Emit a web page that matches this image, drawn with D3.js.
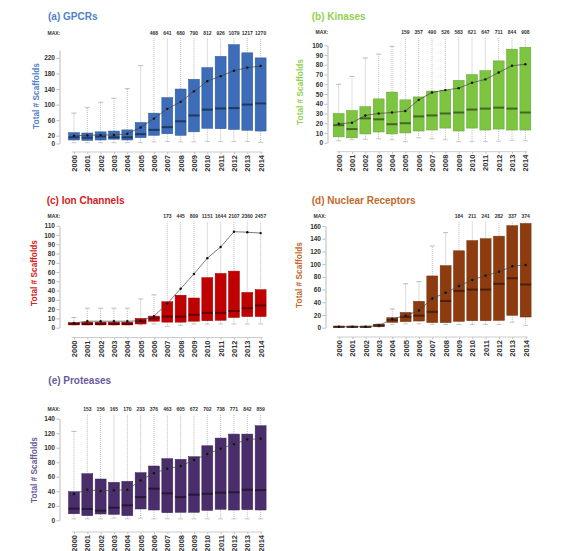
<!DOCTYPE html>
<html>
<head>
<meta charset="utf-8">
<script src="https://cdn.jsdelivr.net/npm/d3@7"></script>
<style>
  body { margin: 0; background: #fff; }
  text { font-family: "Liberation Sans", Arial, sans-serif; font-weight: bold; }
</style>
</head>
<body>
<div id="chart"></div>
<script>
const years = ["2000","2001","2002","2003","2004","2005","2006","2007","2008","2009","2010","2011","2012","2013","2014"];

// (a) GPCRs
const gpcrQ1     = [9, 8, 9, 11, 9, 15, 21, 25, 21, 30, 39, 38, 36, 34, 32];
const gpcrMedian = [16, 15, 18, 16, 16, 24, 35, 42, 57, 72, 87, 90, 91, 100, 103];
const gpcrQ3     = [28, 27, 30, 32, 35, 54, 78, 118, 140, 165, 195, 224, 254, 233, 220];
const gpcrMean   = [20, 21, 22, 22, 25, 41, 64, 89, 107, 134, 160, 173, 187, 195, 199];
const gpcrMin    = [2, 2, 2, 2, 2, 2, 4, 5, 4, 4, 5, 5, 5, 5, 3];
const gpcrMax    = [78, 92, 106, 116, 141, 200, 468, 641, 680, 790, 812, 926, 1079, 1217, 1270];

// (b) Kinases
const kinQ1     = [6, 5, 9, 11, 9, 10, 12, 13, 15, 12, 15, 13, 14, 13, 13];
const kinMedian = [18, 14, 25, 24, 19, 20, 27, 28, 30, 31, 34, 35, 36, 35, 31];
const kinQ3     = [30, 33, 37, 45, 52, 44, 47, 53, 54, 64, 70, 74, 84, 96, 98];
const kinMean   = [19.5, 20.5, 28, 30, 31, 32.5, 44, 51.5, 54, 56, 61.5, 65, 72, 79, 80.5];
const kinMin    = [2, 3, 3.5, 4, 3, 1, 5, 4, 3, 1, 1, 1, 1.5, 2.5, 2];
const kinMax    = [60, 68, 87, 91, 99, 159, 357, 490, 526, 583, 621, 647, 711, 844, 908];

// (c) Ion Channels
const ionQ1     = [3, 3, 3, 3, 3, 4, 7, 6, 6, 7, 7.5, 8, 11, 12, 12];
const ionMedian = [4, 4, 4, 4, 4, 7, 10, 12, 12, 14, 16, 16, 18, 21, 24];
const ionQ3     = [5.5, 6, 6, 6, 6, 10, 12.5, 28, 35, 32, 54, 58.5, 61, 38, 41];
const ionMean   = [5, 7, 7, 7, 7, 7.5, 12.5, 26, 42, 58, 75, 87, 103.5, 103, 102];
const ionMin    = [3, 3, 3, 3, 3, 3, 4, 1.5, 2.5, 4, 4, 4, 4, 4, 4];
const ionMax    = [11, 21, 21, 21, 21, 31, 35.5, 173, 445, 809, 1151, 1644, 2107, 2360, 2457];

// (d) Nuclear Receptors
const nrQ1     = [1, 1, 1, 1.5, 8.4, 9.5, 10.5, 8, 8, 10, 11, 11, 11.5, 19.5, 16.8];
const nrMedian = [1.5, 1.5, 1.5, 3.5, 12, 17, 19, 25, 42, 58, 60, 60, 69, 77.7, 68];
const nrQ3     = [2, 2, 2, 5.5, 15.7, 24, 41.5, 81.4, 97.6, 121, 137, 140, 144, 160.5, 164];
const nrMean   = [1.5, 1.5, 1.5, 3.5, 13.7, 19, 27, 46, 55, 65.6, 75, 82, 88, 96.6, 98.7];
const nrMin    = [1, 1, 1, 1, 5, 6, 6, 5, 5, 5, 5, 5, 5, 8.5, 3.7];
const nrMax    = [2, 2, 2, 6, 29.5, 69, 72.5, 128.6, 149.5, 184, 211, 241, 282, 337, 374];

// (e) Proteases
const prQ1     = [9, 6.4, 8.7, 8.2, 6.4, 15.6, 14.2, 10.5, 11, 11, 13.7, 15.1, 14.2, 14.6, 14.2];
const prMedian = [16, 15.6, 13.3, 17.4, 20.6, 32, 43.6, 37.2, 32, 35.3, 36.6, 38, 38.6, 42.2, 41.7];
const prQ3     = [39.4, 64.2, 56.9, 52.3, 53.7, 65.6, 74.8, 84.9, 84, 87.6, 102.7, 113.3, 118.8, 118.8, 130.3];
const prMean   = [36.2, 42.2, 40.4, 41.3, 42, 55, 65, 71, 74.8, 83, 91.3, 98.6, 105, 111.5, 112.4];
const prMin    = [2, 2, 2, 3, 2, 3, 2, 2, 2, 2, 2, 2, 2, 2, 2];
const prMax    = [122.5, 153, 156, 165, 170, 233, 376, 463, 605, 672, 702, 738, 771, 842, 859];

// y tick labels
const gpcrTicks = [0, 20, 60, 100, 140, 180, 220];
const kinTicks  = [0, 10, 20, 30, 40, 50, 60, 70, 80, 90, 100];
const ionTicks  = [0, 10, 20, 30, 40, 50, 60, 70, 80, 90, 100, 110];
const nrTicks   = [0, 20, 40, 60, 80, 100, 120, 140, 160];
const prTicks   = [0, 20, 40, 60, 80, 100, 120, 140];

const width = 569, height = 551;

const svg = d3.select("#chart")
  .append("svg")
  .attr("width", width)
  .attr("height", height);

const panels = [
  { title: "(a) GPCRs", fill: "#3D6CB9", titleColor: "#4F81C9",
    q1: gpcrQ1, med: gpcrMedian, q3: gpcrQ3, mean: gpcrMean, min: gpcrMin, max: gpcrMax, ticks: gpcrTicks,
    yMax: 240, y0: 143.5, yTop: 50.1, xRange: [67.3, 267.3], axisX: 59.5,
    maxY: 33.5, xAxisY: 152, titleX: 48, titleY: 20, labelX: 37, labelY: 96 },
  { title: "(b) Kinases", fill: "#7DC540", titleColor: "#92D050",
    q1: kinQ1, med: kinMedian, q3: kinQ3, mean: kinMean, min: kinMin, max: kinMax, ticks: kinTicks,
    yMax: 100, y0: 142.7, yTop: 45.3, xRange: [332, 532], axisX: 327.5,
    maxY: 33, xAxisY: 151.7, titleX: 311.7, titleY: 20, labelX: 301, labelY: 92 },
  { title: "(c) Ion Channels", fill: "#C00000", titleColor: "#D42020",
    q1: ionQ1, med: ionMedian, q3: ionQ3, mean: ionMean, min: ionMin, max: ionMax, ticks: ionTicks,
    yMax: 110, y0: 327.7, yTop: 225.7, xRange: [67.3, 267.3], axisX: 59.5,
    maxY: 217, xAxisY: 337.5, titleX: 46.7, titleY: 204, labelX: 35, labelY: 273 },
  { title: "(d) Nuclear Receptors", fill: "#8E3B0F", titleColor: "#C2692A",
    q1: nrQ1, med: nrMedian, q3: nrQ3, mean: nrMean, min: nrMin, max: nrMax, ticks: nrTicks,
    yMax: 160, y0: 327.7, yTop: 226, xRange: [332.3, 532.3], axisX: 325.5,
    maxY: 217, xAxisY: 337, titleX: 311.7, titleY: 204, labelX: 300, labelY: 275 },
  { title: "(e) Proteases", fill: "#4A2D6B", titleColor: "#6A5A9C",
    q1: prQ1, med: prMedian, q3: prQ3, mean: prMean, min: prMin, max: prMax, ticks: prTicks,
    yMax: 140, y0: 520.3, yTop: 418.7, xRange: [67.3, 267.3], axisX: 59.5,
    maxY: 410, xAxisY: 532, titleX: 48.3, titleY: 384, labelX: 35, labelY: 470 }
];

function drawPanel(p) {
  let x = d3.scalePoint().domain(years).range(p.xRange).padding(0.5);
  let bw = x.step() * 0.82;
  let y = d3.scaleLinear().domain([0, p.yMax]).range([p.y0, p.yTop]);
  let g = svg.append("g");

  // title
  g.append("text")
    .attr("x", p.titleX).attr("y", p.titleY)
    .attr("font-size", 10).attr("fill", p.titleColor)
    .text(p.title);

  // y label
  g.append("text")
    .attr("transform", `translate(${p.labelX},${p.labelY}) rotate(-90)`)
    .attr("text-anchor", "middle").attr("dominant-baseline", "middle")
    .attr("font-size", 8.3).attr("fill", p.titleColor)
    .text("Total # Scaffolds");

  // y axis
  let ya = g.append("g")
    .attr("transform", `translate(${p.axisX},0)`)
    .call(d3.axisLeft(y).tickValues(p.ticks).tickSize(3).tickSizeOuter(0).tickPadding(1.5));
  ya.select(".domain").attr("stroke", "#bbb");
  ya.selectAll(".tick line").attr("stroke", "#bbb");
  ya.selectAll(".tick text").attr("font-size", 6.5).attr("fill", "#333")
    .attr("font-family", null);

  // x axis
  let xa = g.append("g")
    .attr("transform", `translate(0,${p.xAxisY})`)
    .call(d3.axisBottom(x).tickSize(2).tickSizeOuter(0));
  xa.select(".domain").remove();
  xa.append("line")
    .attr("x1", x(years[0]) - 2).attr("x2", x(years[years.length - 1]) + 2)
    .attr("stroke", "#ccc");
  xa.selectAll(".tick line").attr("stroke", "#bbb");
  xa.selectAll(".tick text")
    .attr("transform", "rotate(-90)")
    .attr("text-anchor", "end")
    .attr("x", -3).attr("y", 0).attr("dy", "0.35em")
    .attr("font-size", 7.5).attr("fill", "#333")
    .attr("font-family", null);

  // MAX label row
  g.append("text")
    .attr("x", p.axisX - 12).attr("y", p.maxY)
    .attr("dominant-baseline", "middle")
    .attr("font-size", 5).attr("fill", "#333")
    .text("MAX:");

  let rows = years.map((yr, i) => ({
    yr: yr, q1: p.q1[i], med: p.med[i], q3: p.q3[i], mean: p.mean[i], min: p.min[i], max: p.max[i]
  }));

  // whiskers
  for (let d of rows) {
    let cx = x(d.yr);
    let over = d.max > p.yMax;
    let topY = over ? p.maxY + 4.5 : y(d.max);
    g.append("line")
      .attr("x1", cx).attr("x2", cx)
      .attr("y1", y(d.q3)).attr("y2", topY)
      .attr("stroke", "#aaa").attr("stroke-width", 0.8)
      .attr("stroke-dasharray", "1,1");
    if (!over) {
      g.append("line")
        .attr("x1", cx - 2.5).attr("x2", cx + 2.5)
        .attr("y1", topY).attr("y2", topY)
        .attr("stroke", "#aaa").attr("stroke-width", 0.8);
    } else {
      g.append("text")
        .attr("x", cx).attr("y", p.maxY)
        .attr("text-anchor", "middle").attr("dominant-baseline", "middle")
        .attr("font-size", 5).attr("fill", "#333")
        .text(d.max);
    }
    g.append("line")
      .attr("x1", cx).attr("x2", cx)
      .attr("y1", y(d.q1)).attr("y2", y(d.min))
      .attr("stroke", "#aaa").attr("stroke-width", 0.8)
      .attr("stroke-dasharray", "1,1");
    g.append("line")
      .attr("x1", cx - 2.5).attr("x2", cx + 2.5)
      .attr("y1", y(d.min)).attr("y2", y(d.min))
      .attr("stroke", "#bbb").attr("stroke-width", 0.8);
  }

  let dark = d3.color(p.fill).darker(1.8);

  // boxes
  g.selectAll(".box")
    .data(rows)
    .join("rect")
    .attr("x", d => x(d.yr) - bw / 2)
    .attr("y", d => y(d.q3))
    .attr("width", bw)
    .attr("height", d => Math.max(1, y(d.q1) - y(d.q3)))
    .attr("fill", p.fill)
    .attr("stroke", d3.color(p.fill).darker(0.6))
    .attr("stroke-width", 0.5);

  // medians
  g.selectAll(".med")
    .data(rows)
    .join("line")
    .attr("x1", d => x(d.yr) - bw / 2)
    .attr("x2", d => x(d.yr) + bw / 2)
    .attr("y1", d => y(d.med))
    .attr("y2", d => y(d.med))
    .attr("stroke", dark)
    .attr("stroke-width", 2);

  // mean line and dots
  let line = d3.line()
    .x(d => x(d.yr))
    .y(d => y(d.mean));

  g.append("path")
    .datum(rows)
    .attr("fill", "none")
    .attr("stroke", "#444")
    .attr("stroke-width", 0.7)
    .attr("d", line);

  g.selectAll(".dot")
    .data(rows)
    .join("circle")
    .attr("cx", d => x(d.yr))
    .attr("cy", d => y(d.mean))
    .attr("r", 1.2)
    .attr("fill", "#111");
}

for (let p of panels) drawPanel(p);
</script>
</body>
</html>
